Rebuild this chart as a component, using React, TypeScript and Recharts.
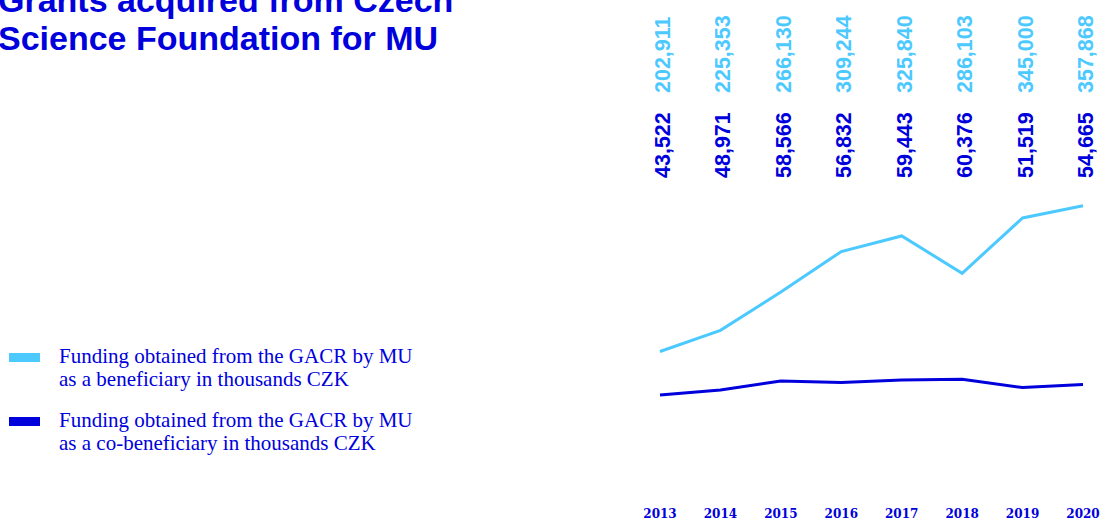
import React from "react";
import { LineChart, Line, XAxis, YAxis, LabelList } from "recharts";

const years = ["2013", "2014", "2015", "2016", "2017", "2018", "2019", "2020"];
const beneficiary = [202911, 225353, 266130, 309244, 325840, 286103, 345000, 357868];
const coBeneficiary = [43522, 48971, 58566, 56832, 59443, 60376, 51519, 54665];

const LIGHT = "#4cc9ff";
const DARK = "#0000dc";

const data = years.map((year, i) => ({
  year,
  beneficiary: beneficiary[i],
  coBeneficiary: coBeneficiary[i],
}));

const fmt = (v: number) => v.toLocaleString("en-US");

const makeLabel = (color: string, baseY: number) => (props: any) => {
  const { x, value } = props;
  const lx = x + 10;
  return (
    <text
      x={lx}
      y={baseY}
      transform={`rotate(-90, ${lx}, ${baseY})`}
      textAnchor="start"
      fill={color}
      fontFamily="'Liberation Sans', Arial, sans-serif"
      fontWeight={700}
      fontSize={21.5}
    >
      {fmt(value)}
    </text>
  );
};

const YearTick = ({ x, y, payload }: any) => (
  <text
    x={x}
    y={y}
    dy={74}
    textAnchor="middle"
    fill={DARK}
    fontFamily="'DejaVu Serif', serif"
    fontWeight={700}
    fontSize={12}
  >
    {payload.value}
  </text>
);

const legendItems = [
  { color: LIGHT, lines: ["Funding obtained from the GACR by MU", "as a beneficiary in thousands CZK"] },
  { color: DARK, lines: ["Funding obtained from the GACR by MU", "as a co-beneficiary in thousands CZK"] },
];

export default function App() {
  return (
    <div style={{ position: "absolute", left: 0, top: 0, width: 1101, height: 520, overflow: "hidden", background: "#fff" }}>
      <div
        style={{
          position: "absolute",
          left: -2,
          top: -19,
          color: DARK,
          fontFamily: "'Liberation Sans', Arial, sans-serif",
          fontWeight: 700,
          fontSize: 34,
          lineHeight: "38px",
          whiteSpace: "nowrap",
        }}
      >
        Grants acquired from Czech
        <br />
        Science Foundation for MU
      </div>

      {legendItems.map((item, i) => (
        <div key={i} style={{ position: "absolute", left: 0, top: 345 + i * 64 }}>
          <div
            style={{
              position: "absolute",
              left: 9,
              top: 8,
              width: 31,
              height: 9,
              background: item.color,
            }}
          />
          <div
            style={{
              position: "absolute",
              left: 59,
              top: 0,
              color: DARK,
              fontFamily: "'Liberation Serif', serif",
              fontSize: 21,
              lineHeight: "23px",
              whiteSpace: "nowrap",
            }}
          >
            {item.lines[0]}
            <br />
            {item.lines[1]}
          </div>
        </div>
      ))}

      <div style={{ position: "absolute", left: 0, top: 0 }}>
        <LineChart
          width={1101}
          height={520}
          data={data}
          margin={{ top: 201, right: 18, left: 660, bottom: 24 }}
        >
          <XAxis
            dataKey="year"
            height={60}
            axisLine={false}
            tickLine={false}
            interval={0}
            tick={<YearTick />}
          />
          <YAxis yAxisId="light" hide domain={[113000, 363000]} allowDataOverflow />
          <YAxis yAxisId="dark" hide domain={[0, 250000]} allowDataOverflow />
          <Line
            yAxisId="light"
            dataKey="beneficiary"
            stroke={LIGHT}
            strokeWidth={3}
            dot={false}
            activeDot={false}
            isAnimationActive={false}
          >
            <LabelList dataKey="beneficiary" content={makeLabel(LIGHT, 93)} />
          </Line>
          <Line
            yAxisId="dark"
            dataKey="coBeneficiary"
            stroke={DARK}
            strokeWidth={3}
            dot={false}
            activeDot={false}
            isAnimationActive={false}
          >
            <LabelList dataKey="coBeneficiary" content={makeLabel(DARK, 178)} />
          </Line>
        </LineChart>
      </div>
    </div>
  );
}
